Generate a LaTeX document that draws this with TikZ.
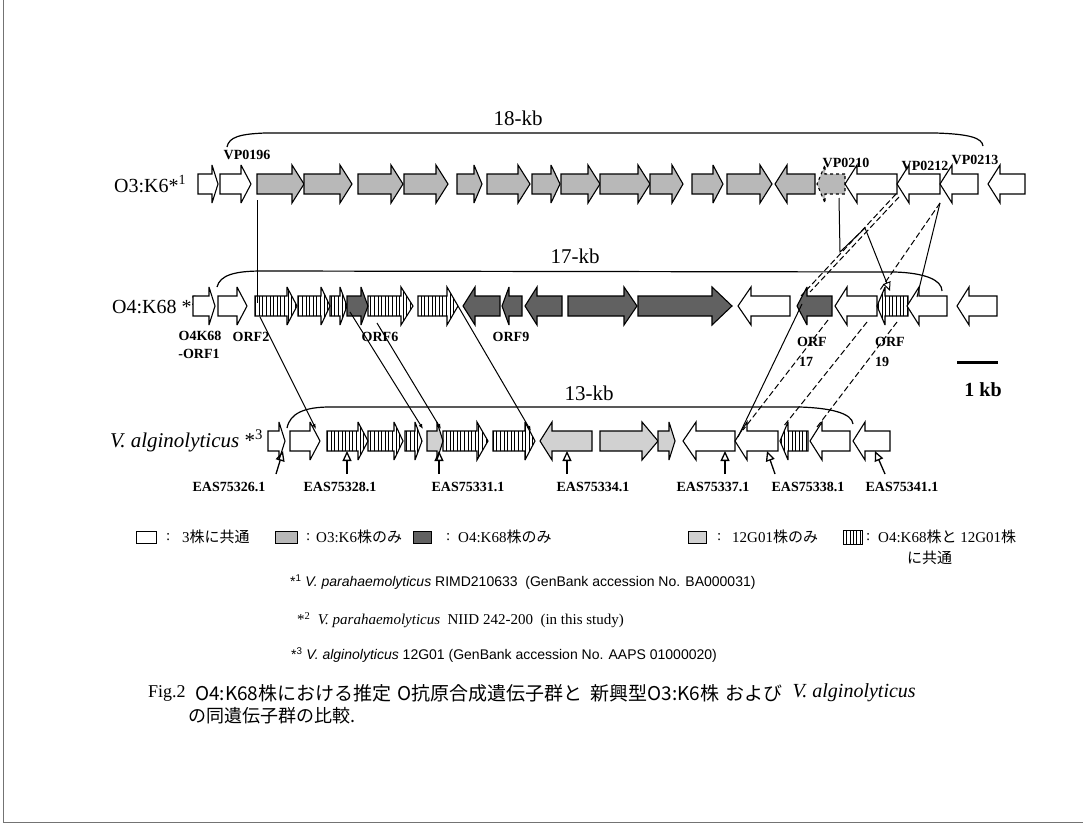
\documentclass[tikz,border=0pt]{standalone}
\usepackage{fontspec}
\setmainfont{Liberation Serif}
\newfontfamily\cjk{Noto Sans CJK JP}
\newfontfamily\arial{Liberation Sans}
\usetikzlibrary{arrows.meta,patterns.meta}
\newcommand{\fs}[1]{\fontsize{#1}{#1}\selectfont}
% right-pointing gene: x1 (tail), x2 (tip), y, style, head length
\newcommand{\gR}[5]{%
  \draw[#4] (#1,{#3-10}) -- ({#2-#5},{#3-10}) -- ({#2-#5},{#3-19}) -- (#2,#3) -- ({#2-#5},{#3+19}) -- ({#2-#5},{#3+10}) -- (#1,{#3+10}) -- cycle;}
% left-pointing gene: tip, tail, y, style, head length
\newcommand{\gL}[5]{%
  \draw[#4] (#2,{#3-10}) -- ({#1+#5},{#3-10}) -- ({#1+#5},{#3-19}) -- (#1,#3) -- ({#1+#5},{#3+19}) -- ({#1+#5},{#3+10}) -- (#2,{#3+10}) -- cycle;}
\tikzset{
  gn/.style={line width=1.1pt, line join=miter, miter limit=4},
  wh/.style={gn, fill=white},
  og/.style={gn, fill=black!28},
  dk/.style={gn, fill=black!62},
  dt/.style={gn, fill=black!18},
  st/.style={gn, pattern={Lines[angle=90,distance=3.6pt,line width=1pt]}},
  glbl/.style={font=\fs{14}\bfseries, inner sep=0pt},
  rowlbl/.style={font=\fs{20}, inner sep=0pt, anchor=west},
  kblbl/.style={font=\fs{21}, inner sep=0pt},
  brace/.style={line width=1.2pt},
  conn/.style={line width=1pt},
  dconn/.style={line width=1pt, dash pattern=on 6pt off 3pt},
  ptr/.style={line width=1.3pt, -{Triangle[open,length=10pt,width=9pt]}},
  leg/.style={font=\fs{15}, inner sep=0pt, anchor=west},
  foot/.style={font=\fs{14}, inner sep=0pt, anchor=west},
  capt/.style={font=\fs{19}, inner sep=0pt, anchor=west},
}
\begin{document}
\begin{tikzpicture}[x=1pt,y=-1pt]
\useasboundingbox (0,0) rectangle (1089,827);
\fill[white] (0,0) rectangle (1089,827);
\draw[black!55, line width=0.8pt] (3,0) -- (3,822) -- (1083,822);

% ---------- row 1 : O3:K6 ----------
\node[rowlbl] (r1) at (114,184) {O3:K6*\textsuperscript{1}};
\gR{198}{218}{184}{wh}{6}
\gR{220}{251}{184}{wh}{10}
\gR{257}{304}{184}{og}{12}
\gR{304}{352}{184}{og}{12}
\gR{358}{403}{184}{og}{12}
\gR{404}{448}{184}{og}{12}
\gR{457}{482}{184}{og}{8}
\gR{487}{530}{184}{og}{12}
\gR{532}{560}{184}{og}{9}
\gR{561}{600}{184}{og}{12}
\gR{600}{650}{184}{og}{12}
\gR{650}{683}{184}{og}{11}
\gR{692}{723}{184}{og}{10}
\gR{727}{772}{184}{og}{12}
\gL{775}{815}{184}{og}{12}
\gL{817}{845}{184}{og,dashed}{8}
\gL{845}{897}{184}{wh}{12}
\gL{897}{940}{184}{wh}{12}
\gL{940}{978}{184}{wh}{12}
\gL{988}{1025}{184}{wh}{12}
\node[glbl] (vp196) at (247,155) {VP0196};
\node[glbl] (vp210) at (846,163) {VP0210};
\node[glbl] (vp212) at (925,166) {VP0212};
\node[glbl] (vp213) at (975,160) {VP0213};
\draw[brace] (227,147) .. controls (229,137) and (240,134) .. (265,133) -- (935,133) .. controls (970,134) and (982,138) .. (983,146);
\node[kblbl] (kb18) at (518,118) {18-kb};

% ---------- row 2 : O4:K68 ----------
\node[rowlbl] (r2) at (112,305) {O4:K68 *\textsuperscript{2}};
\gR{193}{215}{306}{wh}{6}
\gR{218}{247}{306}{wh}{10}
\gR{255}{297}{306}{st}{10}
\gR{298}{330}{306}{st}{9}
\gR{330}{347}{306}{st}{7}
\gR{347}{368}{306}{dk}{7}
\gR{368}{413}{306}{st}{12}
\gR{418}{458}{306}{st}{11}
\gL{463}{500}{306}{dk}{12}
\gL{502}{522}{306}{dk}{7}
\gL{525}{562}{306}{dk}{12}
\gR{568}{637}{306}{dk}{13}
\gR{638}{732}{306}{dk}{20}
\gL{738}{790}{306}{wh}{13}
\gL{797}{832}{306}{dk}{10}
\gL{835}{877}{306}{wh}{12}
\gL{877}{908}{306}{st}{8}
\gL{907}{947}{306}{wh}{12}
\gL{957}{997}{306}{wh}{12}
\node[glbl] (o4a) at (200,336) {O4K68};
\node[glbl] (o4b) at (199,354) {-ORF1};
\node[glbl] (orf2) at (251,337) {ORF2};
\node[glbl] (orf6) at (380,337) {ORF6};
\node[glbl] (orf9) at (511,337) {ORF9};
\node[glbl] (orf17a) at (812,342) {ORF};
\node[glbl] (orf17b) at (806,362) {17};
\node[glbl] (orf19a) at (890,342) {ORF};
\node[glbl] (orf19b) at (882,362) {19};
\draw[brace] (217,287) .. controls (220,275) and (235,271) .. (262,271) -- (895,272) .. controls (925,273) and (942,280) .. (942,291);
\node[kblbl] (kb17) at (575,256) {17-kb};
\draw[line width=3pt] (957,362) -- (998,362);
\node[font=\fs{20}\bfseries, inner sep=0pt] (onekb) at (983,390) {1 kb};

% ---------- row 3 : V. alginolyticus ----------
\node[rowlbl, font=\fs{21}] (r3) at (110,441) {\textit{V. alginolyticus} *\textsuperscript{3}};
\gR{268}{285}{441}{wh}{6}
\gR{290}{320}{441}{wh}{10}
\gR{327}{368}{441}{st}{10}
\gR{368}{403}{441}{st}{9}
\gR{405}{422}{441}{st}{7}
\gR{427}{443}{441}{dt}{6}
\gR{443}{488}{441}{st}{11}
\gR{493}{535}{441}{st}{10}
\gL{540}{592}{441}{dt}{12}
\gR{600}{658}{441}{dt}{16}
\gR{658}{675}{441}{dt}{6}
\gL{683}{735}{441}{wh}{13}
\gL{735}{778}{441}{wh}{12}
\gL{780}{808}{441}{st}{8}
\gL{810}{850}{441}{wh}{12}
\gL{853}{890}{441}{wh}{12}
\draw[brace] (287,428) .. controls (290,413) and (305,407) .. (330,407) -- (800,407) .. controls (830,408) and (852,413) .. (853,424);
\node[kblbl] (kb13) at (589,393) {13-kb};

\node[glbl] (e326) at (229,487) {EAS75326.1};
\node[glbl] (e328) at (340,487) {EAS75328.1};
\node[glbl] (e331) at (468,487) {EAS75331.1};
\node[glbl] (e334) at (593,487) {EAS75334.1};
\node[glbl] (e337) at (713,487) {EAS75337.1};
\node[glbl] (e338) at (808,487) {EAS75338.1};
\node[glbl] (e341) at (902,487) {EAS75341.1};
\draw[ptr] (276,474) -- (283,451);
\draw[ptr] (347,474) -- (347,451);
\draw[ptr] (439,474) -- (439,451);
\draw[ptr] (567,474) -- (567,451);
\draw[ptr] (725,474) -- (725,451);
\draw[ptr] (775,474) -- (767,451);
\draw[ptr] (885,474) -- (875,451);

% ---------- connectors row 1 -> row 2 ----------
\draw[conn] (257,200) -- (257,303);
\draw[conn, -{Triangle[open,length=9pt,width=8pt]}] (839,198) -- (840,252) -- (865,228) -- (890,291);
\draw[dconn] (896,194) -- (801,296);
\draw[dconn] (899,197) -- (810,292);
\draw[dconn] (940,203) -- (880,290);
\draw[conn] (940,203) -- (917,297);

% ---------- connectors row 2 -> row 3 ----------
\draw[conn, -{Latex[length=5pt,width=4pt]}] (260,317) -- (316,429);
\draw[conn, -{Latex[length=5pt,width=4pt]}] (350,312) -- (423,429);
\draw[conn, -{Latex[length=5pt,width=4pt]}] (377,323) -- (441,429);
\draw[conn, -{Latex[length=5pt,width=4pt]}] (458,306) -- (531,431);
\draw[conn] (802,304) -- (738,437);
\draw[dconn] (828,320) -- (743,430);
\draw[dconn] (867,322) -- (783,427);
\draw[dconn] (897,322) -- (817,427);

% ---------- legend ----------
\draw[line width=0.8pt, fill=white] (136,531) rectangle (156,543);
\node[leg] (c1) at (166,537) {:};
\node[leg] (l1) at (182,537) {3{\cjk 株に共通}};
\draw[line width=0.6pt, fill=black!28] (275,531) rectangle (297,543);
\node[leg] (c2) at (306,537) {:};
\node[leg] (l2) at (316,537) {O3:K6{\cjk 株のみ}};
\draw[line width=0.6pt, fill=black!62] (413,531) rectangle (431,543);
\node[leg] (c3) at (446,537) {:};
\node[leg] (l3) at (458,537) {O4:K68{\cjk 株のみ}};
\draw[line width=0.6pt, fill=black!18] (688,531) rectangle (706,543);
\node[leg] (c4) at (717,537) {:};
\node[leg] (l4) at (732,537) {12G01{\cjk 株のみ}};
\draw[line width=0.9pt, pattern={Lines[angle=90,distance=3.4pt,line width=1pt]}] (843,530) rectangle (862,544);
\node[leg] (c5) at (866,537) {:};
\node[leg] (l5) at (878,537) {O4:K68{\cjk 株と} 12G01{\cjk 株}};
\node[leg] (l5b) at (907,558) {{\cjk に共通}};

% ---------- footnotes ----------
\node[foot] (f1) at (290,582) {\arial *\textsuperscript{1} \textit{V. parahaemolyticus} RIMD210633\ \ (GenBank accession No. BA000031)};
\node[foot, font=\fs{15}] (f2) at (297,620) {*\textsuperscript{2}\ \ \textit{V. parahaemolyticus}\ \ NIID 242-200\ \ (in this study)};
\node[foot] (f3) at (291,655) {\arial *\textsuperscript{3}\ \textit{V. alginolyticus} 12G01 (GenBank accession No. AAPS 01000020)};

% ---------- caption ----------
\node[capt, font=\fs{18}] (fig) at (148,693) {Fig.2};
\node[capt] (cp1) at (195,693) {{\cjk O4:K68株における推定\hspace{6pt}O抗原合成遺伝子群と\hspace{8pt}新興型O3:K6株\hspace{6pt}および}};
\node[capt, font=\fs{20}] (cp5) at (cp1.east) [xshift=10pt] {\textit{V. alginolyticus}};
\node[capt, font=\fs{18}] (cp6) at (188,716) {{\cjk の同遺伝子群の比較.}};
\end{tikzpicture}
\end{document}
